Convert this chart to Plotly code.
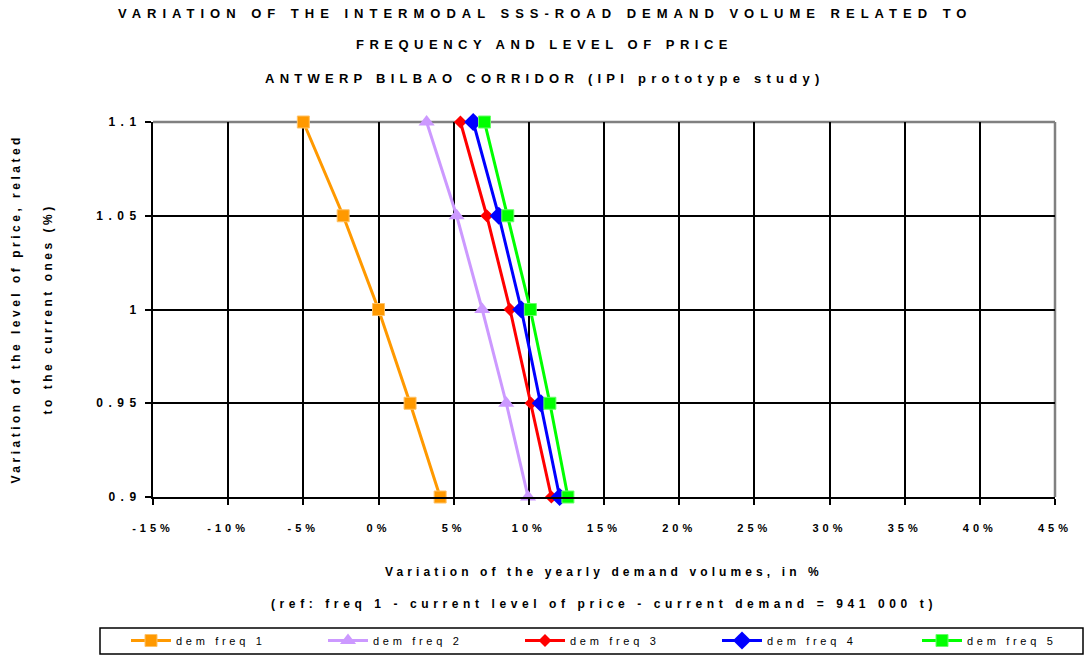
import plotly.graph_objects as go

# Price level (relative to current) and demand variation (%) per frequency
price_level = [1.10, 1.05, 1.00, 0.95, 0.90]
dem_freq_1 = [-5.0, -2.35, 0.0, 2.1, 4.1]
dem_freq_2 = [3.2, 5.2, 6.9, 8.5, 9.95]
dem_freq_3 = [5.45, 7.2, 8.75, 10.15, 11.5]
dem_freq_4 = [6.3, 8.0, 9.5, 10.8, 12.05]
dem_freq_5 = [7.05, 8.6, 10.1, 11.4, 12.6]

series_names = ["dem freq 1", "dem freq 2", "dem freq 3", "dem freq 4", "dem freq 5"]
series_values = [dem_freq_1, dem_freq_2, dem_freq_3, dem_freq_4, dem_freq_5]

x_ticks = [-15, -10, -5, 0, 5, 10, 15, 20, 25, 30, 35, 40, 45]
x_tick_labels = ["-15%", "-10%", "-5%", "0%", "5%", "10%", "15%", "20%", "25%",
                 "30%", "35%", "40%", "45%"]
y_ticks = [0.90, 0.95, 1.00, 1.05, 1.10]
y_tick_labels = ["0.9", "0.95", "1", "1.05", "1.1"]

title_lines = [
    "VARIATION OF THE INTERMODAL SSS-ROAD DEMAND VOLUME RELATED TO",
    "FREQUENCY AND LEVEL OF PRICE",
    "ANTWERP BILBAO CORRIDOR (IPI prototype study)",
]
x_title_lines = [
    "Variation of the yearly demand volumes, in %",
    "(ref: freq 1 - current level of price - current demand = 941 000 t)",
]
y_title_lines = [
    "Variation of the level of price, related",
    "to the current ones (%)",
]

FONT = "Liberation Sans, Arial, sans-serif"
W_PX, H_PX = 1089, 657
L, R, T, B = 153, 1055, 122, 497


def spaced(text, px):
    return f'<span style="letter-spacing:{px}px">{text}</span>'


def bold_spaced(text, px):
    return f'<b><span style="letter-spacing:{px}px">{text}</span></b>'


def paper_x(px):
    return (px - L) / (R - L)


def paper_y(py):
    return (B - py) / (B - T)


styles = [
    dict(color="#FF9900", symbol="square", size=12, line=dict(color="#FFC266", width=1)),
    dict(color="#CC99FF", symbol="triangle-up", size=14, line=dict(width=0)),
    dict(color="#FF0000", symbol="diamond", size=10, line=dict(width=0)),
    dict(color="#0000FF", symbol="diamond", size=14, line=dict(width=0)),
    dict(color="#00FF00", symbol="square", size=12, line=dict(color="#66FF66", width=1)),
]
# first four entries share one legend row, the last sits in a second legend
legend_ids = ["legend", "legend", "legend", "legend", "legend2"]

fig = go.Figure()
for name, vals, st, lg in zip(series_names, series_values, styles, legend_ids):
    fig.add_trace(go.Scatter(
        x=vals, y=price_level, mode="lines+markers",
        name=spaced(name, 3.7), legend=lg,
        line=dict(color=st["color"], width=3),
        marker=dict(color=st["color"], symbol=st["symbol"], size=st["size"],
                    line=st["line"]),
        cliponaxis=False,
    ))

legend_common = dict(
    orientation="h", xref="container", yref="container",
    y=1 - 626 / H_PX, xanchor="left", yanchor="top",
    bgcolor="rgba(0,0,0,0)", borderwidth=0,
    font=dict(size=11, family=FONT, color="black"),
    entrywidth=142, entrywidthmode="pixels", itemwidth=40,
)

fig.update_layout(
    width=W_PX, height=H_PX,
    margin=dict(l=L, r=W_PX - R, t=T, b=H_PX - B, pad=0),
    paper_bgcolor="white", plot_bgcolor="white",
    font=dict(family=FONT, color="black"),
    showlegend=True,
    legend=dict(x=126 / W_PX, **legend_common),
    legend2=dict(x=917 / W_PX, **legend_common),
    xaxis=dict(
        range=[-15, 45], tickvals=x_ticks,
        ticktext=[bold_spaced(t, 4) for t in x_tick_labels],
        tickfont=dict(size=11, family=FONT),
        showgrid=True, gridcolor="black", gridwidth=1.5,
        zeroline=False, showline=True, linecolor="black", linewidth=2,
        ticks="outside", ticklen=6, tickwidth=2, tickcolor="black",
        ticklabelstandoff=14,
    ),
    yaxis=dict(
        range=[0.9, 1.1], tickvals=y_ticks,
        ticktext=[bold_spaced(t, 5.5) for t in y_tick_labels],
        tickfont=dict(size=12, family=FONT),
        showgrid=True, gridcolor="black", gridwidth=1.5,
        zeroline=False, showline=True, linecolor="black", linewidth=2,
        ticks="outside", ticklen=6, tickwidth=2, tickcolor="black",
        ticklabelstandoff=1,
    ),
)

# Grey frame on the top and right sides of the plot area
fig.add_shape(type="line", xref="paper", yref="paper", x0=0, x1=1, y0=1, y1=1,
              line=dict(color="#808080", width=2.5), layer="between")
fig.add_shape(type="line", xref="paper", yref="paper", x0=1, x1=1, y0=0, y1=1,
              line=dict(color="#808080", width=2.5), layer="between")

# Legend frame
fig.add_shape(type="rect", xref="paper", yref="paper",
              x0=paper_x(100), x1=paper_x(1083), y0=paper_y(654), y1=paper_y(628),
              line=dict(color="black", width=1.5), fillcolor="rgba(0,0,0,0)")

# Chart title, three lines
for text, py, sp in zip(title_lines, [13, 45, 78], [6.0, 5.5, 5.25]):
    fig.add_annotation(text=bold_spaced(text, sp), x=paper_x(W_PX / 2), y=paper_y(py),
                       xref="paper", yref="paper", xanchor="center", yanchor="middle",
                       showarrow=False, font=dict(size=13, family=FONT))

# X axis title, two lines
for text, py, sp in zip(x_title_lines, [572, 604], [4.1, 4.6]):
    fig.add_annotation(text=bold_spaced(text, sp), x=paper_x((L + R) / 2), y=paper_y(py),
                       xref="paper", yref="paper", xanchor="center", yanchor="middle",
                       showarrow=False, font=dict(size=12, family=FONT))

# Y axis title, two rotated lines
for text, px in zip(y_title_lines, [15, 47]):
    fig.add_annotation(text=bold_spaced(text, 3.5), x=paper_x(px), y=paper_y((T + B) / 2),
                       xref="paper", yref="paper", xanchor="center", yanchor="middle",
                       textangle=-90, showarrow=False, font=dict(size=12, family=FONT))

fig.write_html("out.html")
